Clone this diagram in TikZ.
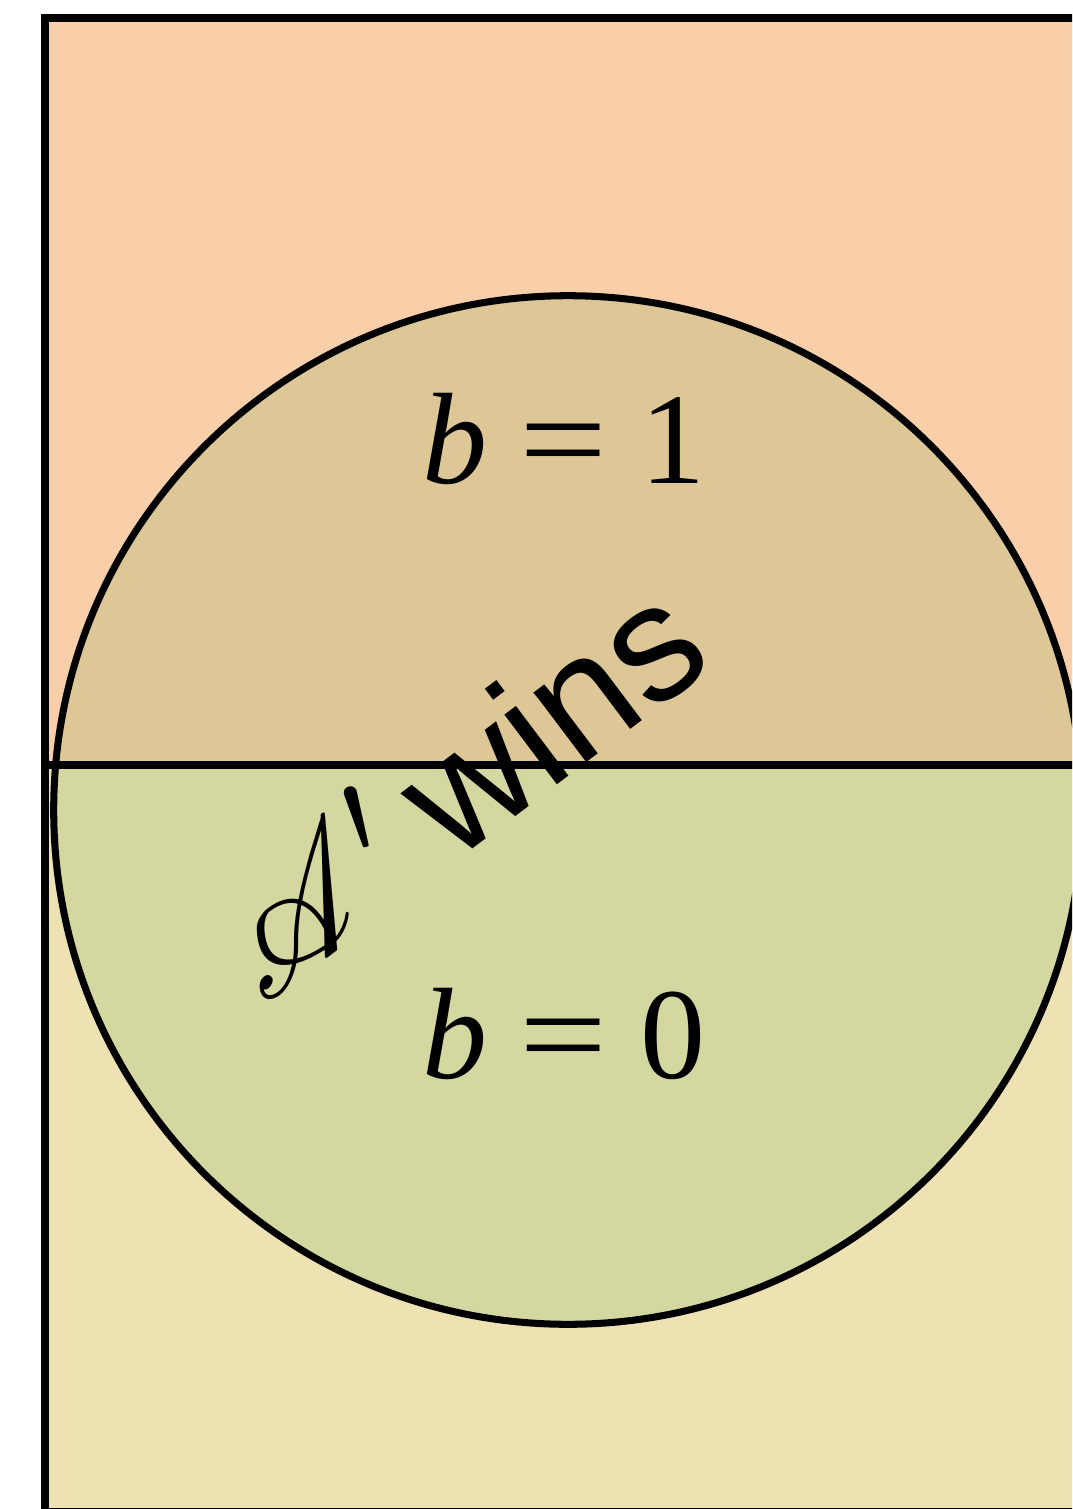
\documentclass[tikz,border=0pt]{standalone}
\usepackage{fontspec}
\usepackage{mathrsfs}
\setmainfont{Liberation Serif}
\newfontfamily\winsfont{Liberation Sans}
\usetikzlibrary{positioning}

\definecolor{topbg}{RGB}{248,207,169}
\definecolor{lowbg}{RGB}{238,225,178}
\definecolor{captop}{RGB}{221,199,150}
\definecolor{caplow}{RGB}{212,216,160}

\newcommand{\bigeq}{\scalebox{1.2}[1]{=}}

\tikzset{
  edge/.style={line width=2.3pt, line join=miter},
  ring/.style={line width=2pt},
  bigtxt/.style={font=\fontsize{37}{40}\selectfont, inner sep=0pt}
}

\begin{document}
\begin{tikzpicture}[x=0.01cm,y=-0.01cm]
\useasboundingbox (0,0) rectangle (1072,1509);
\clip (0,0) rectangle (1072,1509);

% the two halves of the frame
\fill[topbg] (45,18) rectangle (1110,765);
\fill[lowbg] (45,765) rectangle (1110,1512);

% the two halves of the disc
\begin{scope}
\clip (568,810) circle (5.14cm);
\fill[captop] (0,0) rectangle (1110,765);
\fill[caplow] (0,765) rectangle (1110,1520);
\end{scope}
\draw[ring] (568,810) circle (5.14cm);

\draw[edge] (45,765) -- (1110,765);
\draw[edge] (1110,18) -- (45,18) -- (45,1512) -- (1110,1512);

\node[bigtxt, anchor=base] (bone) at (564,483) {\textit{b} \bigeq{} 1};
\node[bigtxt, anchor=base] (bzero) at (564,1078) {\textit{b} \bigeq{} 0};
\node[rotate=37, inner sep=0pt, anchor=base east] (wins) at (718,664)
  {\scalebox{4.7}{$\mathscr{A}'$}\hspace{6pt}\fontsize{47}{50}\selectfont\winsfont wins};
\end{tikzpicture}
\end{document}
